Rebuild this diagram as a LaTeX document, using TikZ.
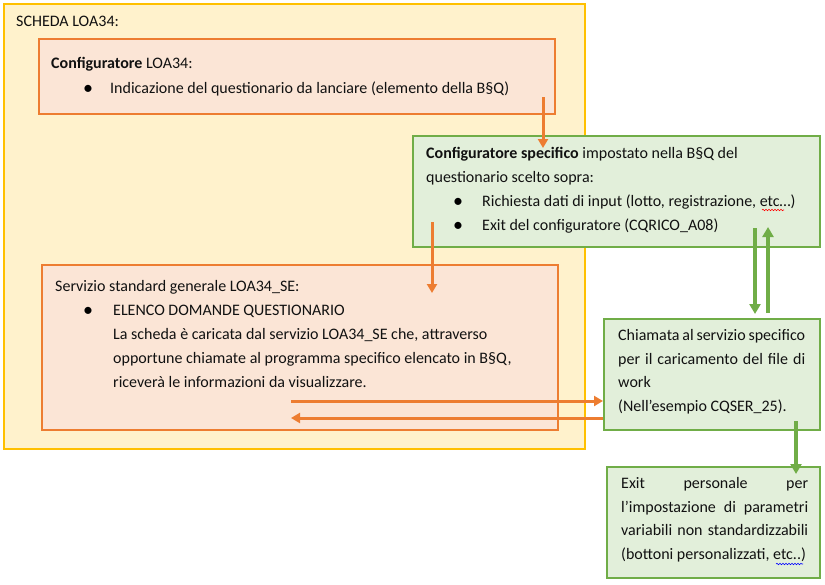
\documentclass[tikz,border=0pt]{standalone}
\usepackage{fontspec}
\setmainfont{Carlito}
\usetikzlibrary{arrows.meta,decorations.pathmorphing}
\definecolor{yfill}{HTML}{FFF2CC}
\definecolor{ydraw}{HTML}{FFC000}
\definecolor{ofill}{HTML}{FBE5D6}
\definecolor{odraw}{HTML}{ED7D31}
\definecolor{gfill}{HTML}{E2EFDA}
\definecolor{gdraw}{HTML}{70AD47}
\definecolor{txtc}{HTML}{111111}
\tikzset{
  box/.style={rectangle, line width=2pt, inner sep=0pt},
  ybox/.style={box, fill=yfill, draw=ydraw},
  obox/.style={box, fill=ofill, draw=odraw},
  gbox/.style={box, fill=gfill, draw=gdraw},
  txt/.style={anchor=base west, inner sep=0pt, text=txtc},
  bul/.style={anchor=base west, inner sep=0pt, text=black, font=\fontsize{20}{20}\selectfont},
  oarrow/.style={draw=odraw, line width=3pt, -{Triangle[width=10pt,length=9pt]}},
  garrow/.style={draw=gdraw, line width=3.5pt, -{Triangle[width=11pt,length=10pt]}},
  wavy/.style={decorate, decoration={snake, segment length=3pt, amplitude=0.7pt}, line width=0.6pt}
}
\begin{document}
\begin{tikzpicture}[x=1pt,y=-1pt,font=\fontsize{16}{19}\selectfont]
\useasboundingbox (0,0) rectangle (825,584);
% boxes
\node[ybox, minimum width=581pt, minimum height=445pt] (outer) at (294.5,226.5) {};
\node[obox, minimum width=516pt, minimum height=75pt] (conf) at (297,76.5) {};
\node[obox, minimum width=516pt, minimum height=165pt] (serv) at (300,347.5) {};
\node[gbox, minimum width=407pt, minimum height=111pt] (spec) at (616.5,191.5) {};
\node[gbox, minimum width=216pt, minimum height=111pt] (chiam) at (712,374.5) {};
\node[gbox, minimum width=213pt, minimum height=111pt] (exitp) at (713.5,522.5) {};
% texts
\node[txt] (t0) at (16,26.5) {SCHEDA LOA34:};
\node[txt] (t1) at (51,68) {\textbf{Configuratore} LOA34:};
\node[bul] (b1) at (83,94) {•};
\node[txt] (t2) at (110,93) {Indicazione del questionario da lanciare (elemento della B§Q)};
\node[txt] (g1) at (426,158) {\textbf{Configuratore specifico} impostato nella B§Q del};
\node[txt] (g2) at (426,182.5) {questionario scelto sopra:};
\node[bul] (gb1) at (453,207.5) {•};
\node[txt] (g3) at (482,206.5) {Richiesta dati di input (lotto, registrazione, etc…)};
\node[bul] (gb2) at (453,231.5) {•};
\node[txt] (g4) at (482,230.5) {Exit del configuratore (CQRICO\_A08)};
\node[txt] (s1) at (55,291) {Servizio standard generale LOA34\_SE:};
\node[bul] (sb1) at (83,316.5) {•};
\node[txt] (s2) at (113,315.5) {ELENCO DOMANDE QUESTIONARIO};
\node[txt] (s3) at (113,339.5) {La scheda è caricata dal servizio LOA34\_SE che, attraverso};
\node[txt] (s4) at (113,363.5) {opportune chiamate al programma specifico elencato in B§Q,};
\node[txt] (s5) at (113,387.5) {riceverà le informazioni da visualizzare.};
\node[txt] (c1) at (618,340.5) {\makebox[187pt][s]{Chiamata al servizio specifico}};
\node[txt] (c2) at (618,364) {\makebox[187pt][s]{per il caricamento del file di}};
\node[txt] (c3) at (618,387.5) {work};
\node[txt] (c4) at (618,411) {(Nell’esempio CQSER\_25).};
\node[txt] (e1) at (621,488) {\makebox[187pt][s]{Exit\hfill personale\hfill per}};
\node[txt] (e2) at (621,512) {\makebox[187pt][s]{l’impostazione di parametri}};
\node[txt] (e3) at (621,535.5) {\makebox[187pt][s]{variabili non standardizzabili}};
\node[txt] (e4) at (621,559) {(bottoni personalizzati, etc..)};
% spell-check marks
\coordinate (w1a) at (762,210); \coordinate (w1b) at (784,210);
\draw[wavy, red] (w1a) -- (w1b);
\coordinate (w2a) at (776,564); \coordinate (w2b) at (803,564);
\draw[wavy, blue] (w2a) -- (w2b);
% arrow end points
\coordinate (a1s) at (543,97);  \coordinate (a1e) at (543,148);
\coordinate (a2s) at (432,222); \coordinate (a2e) at (432,293);
\coordinate (a3s) at (755,228); \coordinate (a3e) at (755,314);
\coordinate (a4s) at (768,313); \coordinate (a4e) at (768,227);
\coordinate (a5s) at (291,401); \coordinate (a5e) at (603,401);
\coordinate (a6s) at (603,418); \coordinate (a6e) at (291,418);
\coordinate (a7s) at (796,421); \coordinate (a7e) at (796,474);
% arrows
\draw[oarrow] (a1s) -- (a1e);
\draw[oarrow] (a2s) -- (a2e);
\draw[garrow] (a3s) -- (a3e);
\draw[garrow] (a4s) -- (a4e);
\draw[oarrow] (a5s) -- (a5e);
\draw[oarrow] (a6s) -- (a6e);
\draw[garrow] (a7s) -- (a7e);
\end{tikzpicture}
\end{document}
